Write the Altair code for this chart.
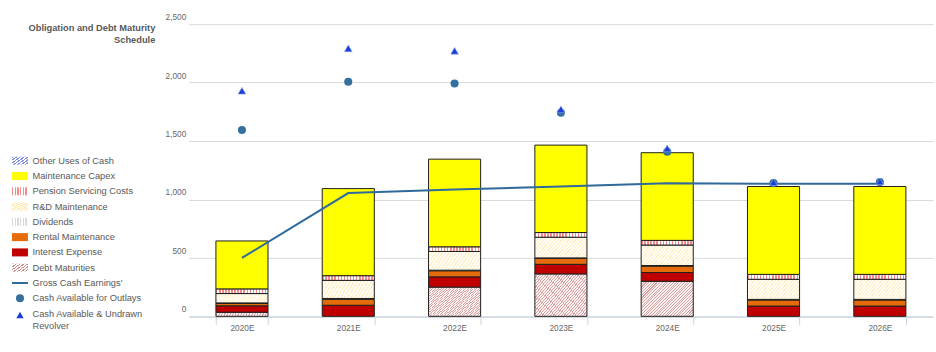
import altair as alt
import pandas as pd

# ---------------- data ----------------
years = ["2020E", "2021E", "2022E", "2023E", "2024E", "2025E", "2026E"]

debt_maturities = [35, 0, 250, 363, 300, 0, 0]
interest_expense = [55, 95, 88, 82, 75, 88, 88]
rental_maintenance = [20, 50, 52, 52, 55, 52, 52]
dividends = [5, 8, 5, 3, 5, 5, 5]
rnd_maintenance = [80, 155, 160, 177, 175, 172, 172]
pension_costs = [40, 40, 40, 40, 40, 42, 42]
maintenance_capex = [410, 745, 750, 748, 750, 752, 752]
other_uses = [0, 0, 0, 0, 0, 0, 0]

gross_cash_earnings = [500, 1055, 1085, 1110, 1138, 1135, 1135]
cash_for_outlays = [1594, 2007, 1993, 1742, 1409, 1140, 1150]
cash_and_revolver = [1930, 2293, 2272, 1771, 1437, 1148, 1155]

y_tick_values = [0, 500, 1000, 1500, 2000, 2500]

series_names = ["Debt Maturities", "Interest Expense", "Rental Maintenance", "Dividends",
                "R&D Maintenance", "Pension Servicing Costs", "Maintenance Capex",
                "Other Uses of Cash"]
series_values = [debt_maturities, interest_expense, rental_maintenance, dividends,
                 rnd_maintenance, pension_costs, maintenance_capex, other_uses]

legend_labels = ["Other Uses of Cash", "Maintenance Capex", "Pension Servicing Costs",
                 "R&D Maintenance", "Dividends", "Rental Maintenance", "Interest Expense",
                 "Debt Maturities", "Gross Cash Earnings'", "Cash Available for Outlays",
                 "Cash Available & Undrawn\nRevolver"]
title_lines = ["Obligation and Debt Maturity", "Schedule"]

# ---------------- styling helpers ----------------
FONT = "Liberation Sans"
TEXT_COLOR = "#595959"
LINE_COLOR = "#2F6A9B"
CIRCLE_COLOR = "#33709F"
TRI_COLOR = "#1A3FD8"
PLOT_W = 745
PLOT_H = 292.5
PLOT_TOP = 24  # page y of the plot top


def stripes(c_line, c_bg, n, x1, y1, x2, y2, frac=0.5):
    stops = []
    for i in range(n):
        a = i / n
        m = (i + frac) / n
        b = (i + 1) / n
        stops += [{"offset": round(a, 4), "color": c_line},
                  {"offset": round(m, 4), "color": c_line},
                  {"offset": round(m, 4), "color": c_bg},
                  {"offset": round(min(b, 1.0), 4), "color": c_bg}]
    return {"gradient": "linear", "x1": x1, "y1": y1, "x2": x2, "y2": y2, "stops": stops}


FILLS = {
    "Debt Maturities": (stripes("#D7A3A3", "#FBF1F1", 32, 0, 0, 1.16, 0.78, 0.4),
                        stripes("#CD8A8A", "#FFFFFF", 7, 0, 0, 1.16, 0.78, 0.4)),
    "Interest Expense": ("#C00000", "#C00000"),
    "Rental Maintenance": ("#E46C0A", "#E46C0A"),
    "Dividends": (stripes("#D9D9D9", "#FFFFFF", 17, 0, 0, 1, 0, 0.5),
                  stripes("#D9D9D9", "#FFFFFF", 6, 0, 0, 1, 0, 0.5)),
    "R&D Maintenance": (stripes("#FFEEC2", "#FFFDF6", 30, 0, 1, 1, 0, 0.35),
                        stripes("#FFE3A6", "#FFFCF2", 7, 0, 1, 1, 0, 0.4)),
    "Pension Servicing Costs": (stripes("#F58A8A", "#FFFFFF", 17, 0, 0, 1, 0, 0.5),
                                stripes("#F58A8A", "#FFFFFF", 6, 0, 0, 1, 0, 0.5)),
    "Maintenance Capex": ("#FFFF00", "#FFFF00"),
    "Other Uses of Cash": (stripes("#8390DC", "#FFFFFF", 28, 0, 0, 1.16, 0.78, 0.45),
                           stripes("#8390DC", "#FFFFFF", 7, 0, 0, 1.16, 0.78, 0.45)),
}

# ---------------- tables ----------------
rows = []
for yi, yr in enumerate(years):
    base = 0
    for s, vals in zip(series_names, series_values):
        v = vals[yi]
        rows.append({"year": yr, "series": s, "v": v, "y0": base, "y1": base + v})
        base += v
stack_df = pd.DataFrame(rows)

points_df = pd.DataFrame({"year": years, "gross": gross_cash_earnings,
                          "outlays": cash_for_outlays, "revolver": cash_and_revolver})

x_axis = alt.Axis(title=None, labelAngle=0, tickBand="extent", tickSize=8,
                  domainColor="#C8D4E3", tickColor="#C8D4E3", labelColor="#666666",
                  labelFontSize=8.3, labelPadding=-1, labelFont=FONT, grid=False)
y_axis = alt.Axis(title=None, values=y_tick_values,
                  labelExpr="format(datum.value, ',.0f')",
                  domain=False, ticks=False, labelColor="#666666", labelFontSize=8.3,
                  labelFont=FONT, labelPadding=3, labelBaseline="bottom", labelOffset=-2.5,
                  gridColor="#D9D9D9", grid=True)
x_scale = alt.Scale(paddingInner=0.51, paddingOuter=0.255)
y_scale = alt.Scale(domain=[0, 2500])


def X():
    return alt.X("year:N", sort=years, scale=x_scale, axis=x_axis)


main_layers = []
for s in series_names:
    if sum(series_values[series_names.index(s)]) == 0:
        continue
    main_layers.append(
        alt.Chart(stack_df).transform_filter(
            (alt.datum.series == s) & (alt.datum.v > 0)
        ).mark_bar(fill=FILLS[s][0], stroke="#1F1F1F", strokeWidth=1, opacity=1).encode(
            x=X(),
            y=alt.Y("y0:Q", scale=y_scale, axis=y_axis),
            y2="y1:Q",
        )
    )

main_layers.append(
    alt.Chart(points_df).mark_line(color=LINE_COLOR, strokeWidth=2).encode(
        x=X(), y=alt.Y("gross:Q", scale=y_scale, axis=y_axis))
)
main_layers.append(
    alt.Chart(points_df).mark_point(shape="circle", filled=True, size=65, opacity=1,
                                    color=CIRCLE_COLOR).encode(
        x=X(), y=alt.Y("outlays:Q", scale=y_scale, axis=y_axis))
)
main_layers.append(
    alt.Chart(points_df).mark_point(shape="triangle-up", filled=True, size=60, opacity=1,
                                    color=TRI_COLOR, stroke="#8FA8EE", strokeWidth=0.6).encode(
        x=X(), y=alt.Y("revolver:Q", scale=y_scale, axis=y_axis))
)
main = alt.layer(*main_layers)

# ---------------- legend & title (pixel layout, left of the axis) ----------------
LS = alt.Scale(domain=[0, PLOT_H], range=[0, PLOT_H], zero=False, nice=False)
ROW0 = 160.7 - PLOT_TOP
ROW_STEP = 15.3
SW_X0, SW_X1 = 11 - 188, 27 - 188
TXT_X = 31.5 - 188

leg_layers = []
for i, lab in enumerate(legend_labels[:8]):
    c = ROW0 + ROW_STEP * i
    d = pd.DataFrame({"a": [c - 4], "b": [c + 4]})
    leg_layers.append(
        alt.Chart(d).mark_rect(fill=FILLS[lab][1], opacity=1).encode(
            x=alt.value(SW_X0), x2=alt.value(SW_X1),
            y=alt.Y("a:Q", scale=LS, axis=None), y2="b:Q")
    )

line_row = pd.DataFrame({"ly": [ROW0 + ROW_STEP * 8]})
leg_layers.append(
    alt.Chart(line_row).mark_rule(color=LINE_COLOR, strokeWidth=2).encode(
        x=alt.value(SW_X0), x2=alt.value(SW_X1), y=alt.Y("ly:Q", scale=LS, axis=None))
)
circ_row = pd.DataFrame({"ly": [ROW0 + ROW_STEP * 9]})
leg_layers.append(
    alt.Chart(circ_row).mark_point(shape="circle", filled=True, size=65, opacity=1,
                                   color=CIRCLE_COLOR).encode(
        x=alt.value((SW_X0 + SW_X1) / 2), y=alt.Y("ly:Q", scale=LS, axis=None))
)
tri_row = pd.DataFrame({"ly": [ROW0 + ROW_STEP * 10 + 1.5]})
leg_layers.append(
    alt.Chart(tri_row).mark_point(shape="triangle-up", filled=True, size=55, opacity=1,
                                  color=TRI_COLOR).encode(
        x=alt.value((SW_X0 + SW_X1) / 2), y=alt.Y("ly:Q", scale=LS, axis=None))
)

text_rows = []
for i, lab in enumerate(legend_labels):
    for j, part in enumerate(lab.split("\n")):
        text_rows.append({"t": part, "ly": ROW0 + ROW_STEP * i + 12.3 * j})
text_df = pd.DataFrame(text_rows)
leg_layers.append(
    alt.Chart(text_df).mark_text(align="left", baseline="middle", font=FONT,
                                 fontSize=9.3, color=TEXT_COLOR).encode(
        x=alt.value(TXT_X), y=alt.Y("ly:Q", scale=LS, axis=None), text="t:N")
)

title_df = pd.DataFrame({"t": title_lines, "ly": [28 - PLOT_TOP, 40.3 - PLOT_TOP]})
leg_layers.append(
    alt.Chart(title_df).mark_text(align="right", baseline="middle", font=FONT,
                                  fontSize=9.3, fontWeight="bold", color=TEXT_COLOR).encode(
        x=alt.value(154.5 - 188), y=alt.Y("ly:Q", scale=LS, axis=None), text="t:N")
)
legend = alt.layer(*leg_layers)

chart = alt.layer(main, legend).resolve_scale(y="independent").properties(
    width=PLOT_W, height=PLOT_H,
    padding={"left": 11, "top": 12, "right": 3, "bottom": 5},
    background="white",
).configure_view(stroke=None)

chart.save("out.html", embed_options={"renderer": "svg", "actions": False})
